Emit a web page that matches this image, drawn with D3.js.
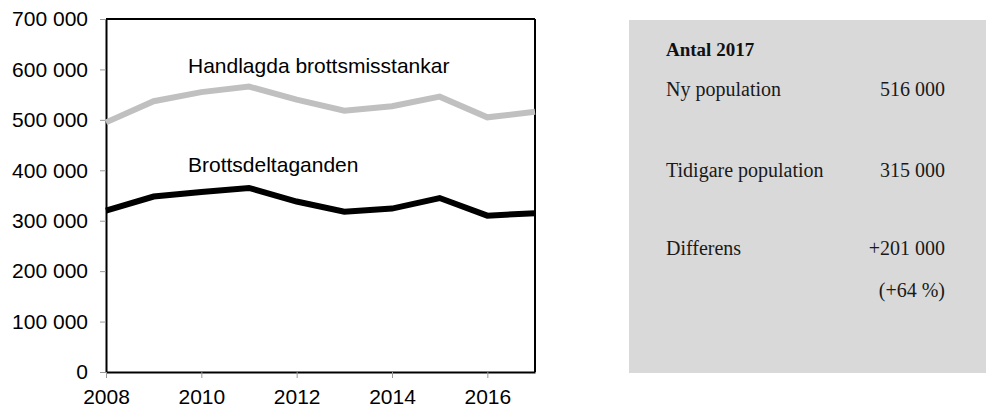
<!DOCTYPE html>
<html>
<head>
<meta charset="utf-8">
<script src="https://d3js.org/d3.v7.min.js"></script>
<style>
  body { margin: 0; background: #fff; }
  svg { display: block; }
</style>
</head>
<body>
<script>
// data
var years = [2008, 2009, 2010, 2011, 2012, 2013, 2014, 2015, 2016, 2017];
var handlagda = [495000, 537000, 555000, 566000, 540000, 518000, 527000, 546000, 505000, 516000];
var deltaganden = [320000, 348000, 357000, 365000, 338000, 318000, 324000, 345000, 310000, 315000];
var yTicks = [0, 100000, 200000, 300000, 400000, 500000, 600000, 700000];
var xTicks = [2008, 2010, 2012, 2014, 2016];
var seriesNames = ["Handlagda brottsmisstankar", "Brottsdeltaganden"];
var boxTitle = "Antal 2017";
var boxRows = [
  ["Ny population", "516 000"],
  ["Tidigare population", "315 000"],
  ["Differens", "+201 000"],
  ["", "(+64 %)"]
];

var width = 986, height = 408;
var m = {left: 106, right: 535, top: 19, bottom: 372};

var svg = d3.select("body").append("svg").attr("width", width).attr("height", height);

var x = d3.scaleLinear().domain([2008, 2017]).range([m.left, m.right]);
var y = d3.scaleLinear().domain([0, 700000]).range([m.bottom, m.top]);

var sv = d3.formatLocale({decimal: ",", thousands: " ", grouping: [3], currency: ["", " kr"]});
var fmt = sv.format(",d");

var font = "'Liberation Sans', Arial, sans-serif";

//axes
var yAxis = svg.append("g").attr("transform", "translate(" + m.left + ",0)")
  .call(d3.axisLeft(y).tickValues(yTicks).tickFormat(fmt).tickSize(6).tickPadding(12).tickSizeOuter(0));
var xAxis = svg.append("g").attr("transform", "translate(0," + m.bottom + ")")
  .call(d3.axisBottom(x).tickValues(xTicks).tickFormat(d3.format("d")).tickSize(6).tickPadding(11).tickSizeOuter(0));

[yAxis, xAxis].forEach(function(a) {
  a.selectAll("text").style("font-family", font).style("font-size", "21px").attr("fill", "#000");
  a.selectAll(".tick line").attr("stroke", "#999").attr("stroke-width", 1);
  a.select(".domain").attr("stroke", "#000").attr("stroke-width", 2);
});

//box top and right
svg.append("line").attr("x1", m.left).attr("x2", m.right).attr("y1", m.top).attr("y2", m.top)
  .attr("stroke", "#000").attr("stroke-width", 2);
svg.append("line").attr("x1", m.right).attr("x2", m.right).attr("y1", m.top).attr("y2", m.bottom)
  .attr("stroke", "#000").attr("stroke-width", 2);

var line = d3.line().x(function(d, i) { return x(years[i]); }).y(function(d) { return y(d); });

svg.append("path").datum(handlagda).attr("d", line)
  .attr("fill", "none").attr("stroke", "#c0c0c0").attr("stroke-width", 6);
svg.append("path").datum(deltaganden).attr("d", line)
  .attr("fill", "none").attr("stroke", "#000").attr("stroke-width", 6);

svg.selectAll(".lbl").data(seriesNames).enter().append("text")
  .attr("class", "lbl")
  .attr("x", 188)
  .attr("y", function(d, i) { return i == 0 ? 73 : 172; })
  .style("font-family", font).style("font-size", "21px")
  .text(function(d) { return d; });

//side box
var serif = "'Liberation Serif', 'Times New Roman', serif";
var box = svg.append("g");
box.append("rect").attr("x", 629).attr("y", 20).attr("width", width - 629).attr("height", 353).attr("fill", "#d9d9d9");
box.append("text").attr("x", 666).attr("y", 56).text(boxTitle)
  .style("font-family", serif).style("font-size", "19px").style("font-weight", "bold").attr("fill", "#111");

var rowY = [96, 177, 255, 297];
boxRows.forEach(function(r, i) {
  box.append("text").attr("x", 666).attr("y", rowY[i]).text(r[0])
    .style("font-family", serif).style("font-size", "20px").attr("fill", "#1a1a1a");
  box.append("text").attr("x", 945).attr("y", rowY[i]).attr("text-anchor", "end").text(r[1])
    .style("font-family", serif).style("font-size", "20px").attr("fill", "#1a1a1a");
});
</script>
</body>
</html>
